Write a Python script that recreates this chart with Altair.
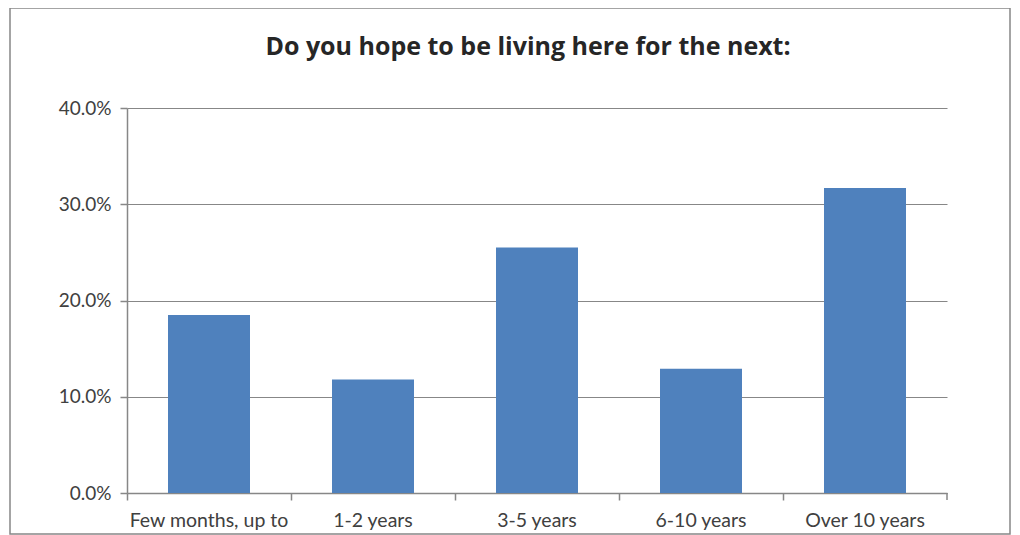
import altair as alt
import pandas as pd

title_text = "Do you hope to be living here for the next:"
categories = ["Few months, up to", "1-2 years", "3-5 years", "6-10 years", "Over 10 years"]
values = [0.185, 0.118, 0.255, 0.129, 0.317]
y_ticks = [0.0, 0.1, 0.2, 0.3, 0.4]

df = pd.DataFrame({"category": categories, "value": values})

FONT = "Lato"
GRAY = "#878787"

x_enc = alt.X(
    "category:N",
    sort=categories,
    scale=alt.Scale(paddingInner=0, paddingOuter=0),
    axis=alt.Axis(
        title=None,
        labelAngle=0,
        labelFont=FONT,
        labelFontSize=19.5,
        labelColor="#404040",
        labelPadding=11,
        domainColor=GRAY,
        domainWidth=1.5,
        tickColor=GRAY,
        tickWidth=1.5,
        tickSize=7,
        bandPosition=0,
        grid=False,
    ),
)

y_enc = alt.Y(
    "value:Q",
    scale=alt.Scale(domain=[0, 0.4], nice=False),
    axis=alt.Axis(
        title=None,
        values=y_ticks,
        format=".1%",
        labelFont=FONT,
        labelFontSize=19,
        labelColor="#404040",
        labelPadding=9,
        domainColor=GRAY,
        domainWidth=1.5,
        tickColor=GRAY,
        tickWidth=1.5,
        tickSize=7,
        gridColor=GRAY,
        gridWidth=1.2,
    ),
)

bars = alt.Chart(df).mark_bar(
    color="#4F81BD", width=alt.RelativeBandSize(0.5)
).encode(x=x_enc, y=y_enc)

one = pd.DataFrame({"t": [title_text]})

frame = alt.Chart(one).mark_rect(
    filled=False, stroke=GRAY, strokeWidth=1.5
).encode(
    x=alt.value(-117), x2=alt.value(883), y=alt.value(-100), y2=alt.value(426)
)

last_tick = alt.Chart(one).mark_rule(color=GRAY, strokeWidth=1.5).encode(
    x=alt.value(820), y=alt.value(385), y2=alt.value(392)
)

title = alt.Chart(one).mark_text(
    font="Open Sans", fontSize=25, fontWeight="bold", color="#262626",
    align="center", baseline="alphabetic"
).encode(text="t:N", x=alt.value(401), y=alt.value(-53))

chart = alt.layer(frame, bars, last_tick, title).properties(
    width=820,
    height=385,
    padding={"left": 119, "top": 100, "right": 65, "bottom": 42},
    autosize=alt.AutoSizeParams(type="none"),
).configure_view(stroke=None)

chart.save("out.html", embed_options={"renderer": "svg", "actions": False})
